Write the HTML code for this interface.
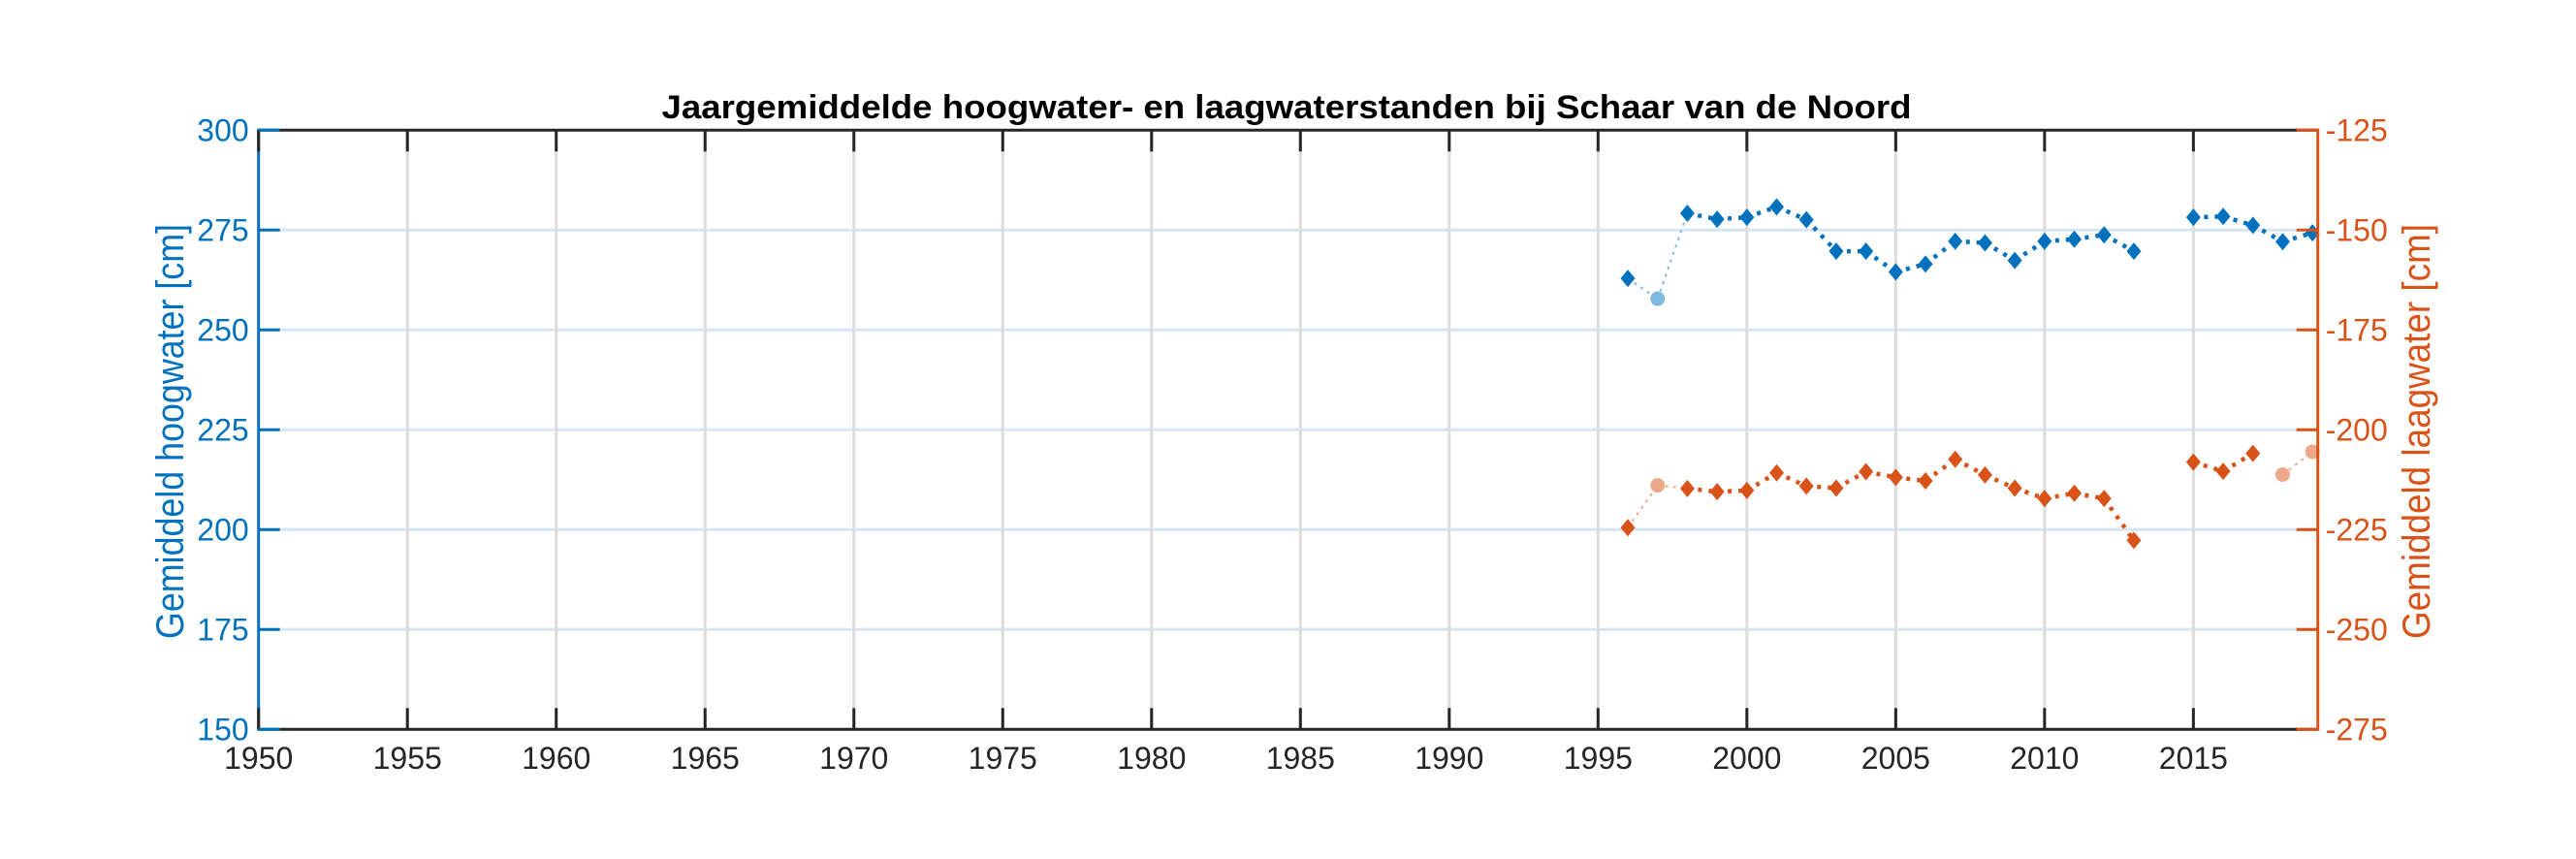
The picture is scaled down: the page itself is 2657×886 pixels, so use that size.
<!DOCTYPE html>
<html><head><meta charset="utf-8"><style>
html,body{margin:0;padding:0;background:#fff}
svg{display:block;font-family:"Liberation Sans",Arial,sans-serif}
</style></head><body>
<svg id="chart" width="2657" height="886" viewBox="0 0 2657 886">
<rect width="2657" height="886" fill="#fff"/>
<g id="grid"></g><g id="series"></g><g id="axes"></g>
</svg>
<script>
const years = [1996,1997,1998,1999,2000,2001,2002,2003,2004,2005,2006,2007,2008,2009,2010,2011,2012,2013,2015,2016,2017,2018,2019];
const highWater = [262.9,257.8,279.2,277.7,278.2,280.8,277.6,269.7,269.7,264.5,266.5,272.2,271.8,267.4,272.2,272.7,273.8,269.7,278.2,278.4,276.2,272.1,274.3];
const highReliable = [1,0,1,1,1,1,1,1,1,1,1,1,1,1,1,1,1,1,1,1,1,1,1];
const lowWater = [-224.5,-213.9,-214.7,-215.5,-215.2,-210.8,-214.1,-214.6,-210.5,-211.9,-212.8,-207.4,-211.3,-214.6,-217.2,-215.9,-217.2,-227.7,-208.1,-210.4,-205.9,-211.2,-205.5];
const lowReliable = [1,0,1,1,1,1,1,1,1,1,1,1,1,1,1,1,1,1,1,1,1,0,0];
const xTicks = [1950,1955,1960,1965,1970,1975,1980,1985,1990,1995,2000,2005,2010,2015];
const yLeftTicks = [150,175,200,225,250,275,300];
const yRightTicks = [-275,-250,-225,-200,-175,-150,-125];

const L=266.7,R=2390.7,T=134.3,B=752.3,X0=1950,X1=2019.18;
const xs=v=>L+(v-X0)*(R-L)/(X1-X0);
const yl=v=>B-(v-150)*(B-T)/150;
const yr=v=>B-(v+275)*(B-T)/150;
const NS="http://www.w3.org/2000/svg";
function mk(tag,attrs,parent){const e=document.createElementNS(NS,tag);for(const k in attrs)e.setAttribute(k,attrs[k]);parent.appendChild(e);return e;}
const grid=document.getElementById('grid'),ser=document.getElementById('series'),ax=document.getElementById('axes');

yLeftTicks.forEach(v=>{if(v===150||v===300)return;
 const g=mk('line',{x1:L,x2:R,y1:yl(v),y2:yl(v),stroke:'#d5e5f3','stroke-width':3},grid);
 
 });
xTicks.forEach(v=>{if(v===1950)return;
 const g=mk('line',{x1:xs(v),x2:xs(v),y1:T,y2:B,stroke:'#dcdcdc','stroke-width':3},grid);
 
 });

function drawSeries(vals,rel,yf,col,light,name){
 for(let i=0;i<vals.length-1;i++){
  if(years[i+1]-years[i]!==1)continue;
  const both=rel[i]&&rel[i+1];
  if(!both && name==='low' && years[i]===2017)continue;
  const s=mk('line',{x1:xs(years[i]),y1:yf(vals[i]),x2:xs(years[i+1]),y2:yf(vals[i+1]),
   stroke:both?col:light,'stroke-width':both?4.5:2,'stroke-dasharray':both?'4 7':'3 5'},ser);
  
  
 }
 vals.forEach((v,i)=>{
  const cx=xs(years[i]),cy=yf(v);let m;
  if(rel[i]){m=mk('polygon',{points:`${cx},${cy-9} ${cx+7.5},${cy} ${cx},${cy+9} ${cx-7.5},${cy}`,fill:col},ser);}
  else{m=mk('circle',{cx:cx,cy:cy,r:7.5,fill:light},ser);}
  
  
 });
}
drawSeries(highWater,highReliable,yl,'#0072BD','#80b9de','high');
drawSeries(lowWater,lowReliable,yr,'#D95319','#eca88b','low');

let a;
a=mk('line',{x1:L,x2:R,y1:T,y2:T,stroke:'#262626','stroke-width':3},ax);
a=mk('line',{x1:L,x2:R,y1:B,y2:B,stroke:'#262626','stroke-width':3},ax);
a=mk('line',{x1:L,x2:L,y1:T-1.5,y2:B+1.5,stroke:'#0072BD','stroke-width':3},ax);
a=mk('line',{x1:R,x2:R,y1:T-1.5,y2:B+1.5,stroke:'#D95319','stroke-width':3},ax);

xTicks.forEach(v=>{const x=xs(v);
 mk('line',{x1:x,x2:x,y1:B,y2:B-22,stroke:'#262626','stroke-width':3},ax);
 mk('line',{x1:x,x2:x,y1:T,y2:T+22,stroke:'#262626','stroke-width':3},ax);
 const t=mk('text',{x:x,y:793,'text-anchor':'middle','font-size':32,fill:'#262626'},ax);t.textContent=v;
 
 });
yLeftTicks.forEach(v=>{const y=yl(v);
 mk('line',{x1:L,x2:L+22,y1:y,y2:y,stroke:'#0072BD','stroke-width':3},ax);
 const t=mk('text',{x:L-10,y:y+11,'text-anchor':'end','font-size':32,fill:'#0072BD'},ax);t.textContent=v;
 
 });
yRightTicks.forEach(v=>{const y=yr(v);
 mk('line',{x1:R,x2:R-22,y1:y,y2:y,stroke:'#D95319','stroke-width':3},ax);
 const t=mk('text',{x:R+8,y:y+11,'text-anchor':'start','font-size':32,fill:'#D95319'},ax);t.textContent=v;
 
 });
</script>
<svg style="position:absolute;left:0;top:0" width="2657" height="886">
<text x="1327" y="122" text-anchor="middle" font-size="34" font-weight="bold" fill="#000" textLength="1289" lengthAdjust="spacingAndGlyphs" font-family="Liberation Sans, sans-serif">Jaargemiddelde hoogwater- en laagwaterstanden bij Schaar van de Noord</text>
<text transform="translate(189,445) rotate(-90)" text-anchor="middle" font-size="40" fill="#0072BD" textLength="428" lengthAdjust="spacingAndGlyphs" font-family="Liberation Sans, sans-serif">Gemiddeld hoogwater [cm]</text>
<text transform="translate(2506,445) rotate(-90)" text-anchor="middle" font-size="40" fill="#D95319" textLength="428" lengthAdjust="spacingAndGlyphs" font-family="Liberation Sans, sans-serif">Gemiddeld laagwater [cm]</text>
</svg>
</body></html>
